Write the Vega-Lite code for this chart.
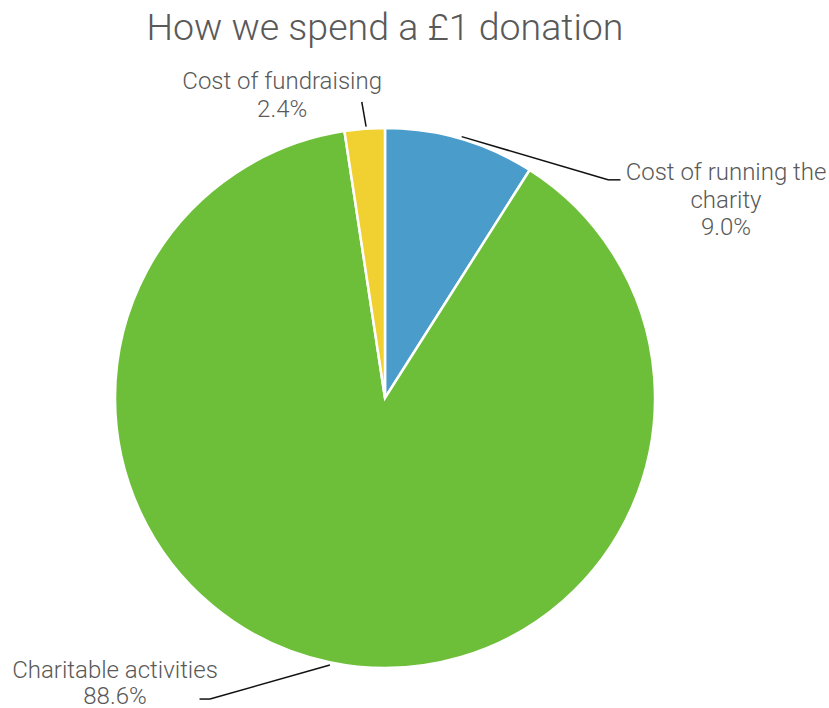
{
  "$schema": "https://vega.github.io/schema/vega-lite/v6.json",
  "autosize": {"type": "none"},
  "width": 540,
  "height": 540,
  "padding": {"left": 115, "top": 128, "right": 174, "bottom": 40},
  "background": "white",
  "title": {
    "text": "How we spend a £1 donation",
    "font": "Roboto",
    "fontWeight": 300,
    "fontSize": 37.5,
    "color": "#595959",
    "frame": "group",
    "anchor": "middle",
    "baseline": "alphabetic",
    "offset": -7
  },
  "config": {
    "view": {"stroke": null},
    "text": {"font": "Roboto", "fontWeight": 300, "fontSize": 24, "color": "#595959", "baseline": "alphabetic", "align": "center", "lineHeight": 28.5, "lineBreak": "\n"},
    "rule": {"color": "#111111", "strokeWidth": 1.5}
  },
  "data": {
    "values": [
      {"category": "Cost of running the charity", "label": "Cost of running the\ncharity", "share": 0.090},
      {"category": "Charitable activities", "label": "Charitable activities", "share": 0.886},
      {"category": "Cost of fundraising", "label": "Cost of fundraising", "share": 0.024}
    ]
  },
  "transform": [
    {"window": [{"op": "row_number", "as": "slice"}]}
  ],
  "layer": [
    {
      "mark": {"type": "arc", "stroke": "white", "strokeWidth": 2.5},
      "encoding": {
        "theta": {"field": "share", "type": "quantitative", "stack": true},
        "order": {"field": "slice", "type": "quantitative"},
        "color": {
          "field": "category",
          "type": "nominal",
          "scale": {
            "domain": ["Cost of running the charity", "Charitable activities", "Cost of fundraising"],
            "range": ["#4a9ccb", "#6dbf39", "#f1d032"]
          },
          "legend": null
        }
      }
    },
    {
      "transform": [{"filter": "datum.category === 'Cost of running the charity'"}],
      "mark": "rule",
      "encoding": {
        "x": {"datum": 0.284, "type": "quantitative", "scale": {"domain": [-1, 1]}, "axis": null},
        "y": {"datum": 0.968, "type": "quantitative", "scale": {"domain": [-1, 1]}, "axis": null},
        "x2": {"datum": 0.826},
        "y2": {"datum": 0.808}
      }
    },
    {
      "transform": [{"filter": "datum.category === 'Cost of running the charity'"}],
      "mark": "rule",
      "encoding": {
        "x": {"datum": 0.826, "type": "quantitative", "scale": {"domain": [-1, 1]}, "axis": null},
        "y": {"datum": 0.808, "type": "quantitative", "scale": {"domain": [-1, 1]}, "axis": null},
        "x2": {"datum": 0.872},
        "y2": {"datum": 0.808}
      }
    },
    {
      "transform": [{"filter": "datum.category === 'Charitable activities'"}],
      "mark": "rule",
      "encoding": {
        "x": {"datum": -0.204, "type": "quantitative", "scale": {"domain": [-1, 1]}, "axis": null},
        "y": {"datum": -0.989, "type": "quantitative", "scale": {"domain": [-1, 1]}, "axis": null},
        "x2": {"datum": -0.648},
        "y2": {"datum": -1.115}
      }
    },
    {
      "transform": [{"filter": "datum.category === 'Charitable activities'"}],
      "mark": "rule",
      "encoding": {
        "x": {"datum": -0.648, "type": "quantitative", "scale": {"domain": [-1, 1]}, "axis": null},
        "y": {"datum": -1.115, "type": "quantitative", "scale": {"domain": [-1, 1]}, "axis": null},
        "x2": {"datum": -0.687},
        "y2": {"datum": -1.115}
      }
    },
    {
      "transform": [{"filter": "datum.category === 'Cost of fundraising'"}],
      "mark": "rule",
      "encoding": {
        "x": {"datum": -0.070, "type": "quantitative", "scale": {"domain": [-1, 1]}, "axis": null},
        "y": {"datum": 1.005, "type": "quantitative", "scale": {"domain": [-1, 1]}, "axis": null},
        "x2": {"datum": -0.086},
        "y2": {"datum": 1.097}
      }
    },
    {
      "transform": [{"filter": "datum.category === 'Cost of running the charity'"}],
      "mark": "text",
      "encoding": {
        "x": {"datum": 1.263, "type": "quantitative", "scale": {"domain": [-1, 1]}, "axis": null},
        "y": {"datum": 0.808, "type": "quantitative", "scale": {"domain": [-1, 1]}, "axis": null},
        "text": {"field": "label"}
      }
    },
    {
      "transform": [{"filter": "datum.category === 'Cost of running the charity'"}],
      "mark": "text",
      "encoding": {
        "x": {"datum": 1.263, "type": "quantitative", "scale": {"domain": [-1, 1]}, "axis": null},
        "y": {"datum": 0.604, "type": "quantitative", "scale": {"domain": [-1, 1]}, "axis": null},
        "text": {"field": "share", "type": "quantitative", "format": ".1%"}
      }
    },
    {
      "transform": [{"filter": "datum.category === 'Charitable activities'"}],
      "mark": "text",
      "encoding": {
        "x": {"datum": -1.0, "type": "quantitative", "scale": {"domain": [-1, 1]}, "axis": null},
        "y": {"datum": -1.038, "type": "quantitative", "scale": {"domain": [-1, 1]}, "axis": null},
        "text": {"field": "label"}
      }
    },
    {
      "transform": [{"filter": "datum.category === 'Charitable activities'"}],
      "mark": "text",
      "encoding": {
        "x": {"datum": -1.0, "type": "quantitative", "scale": {"domain": [-1, 1]}, "axis": null},
        "y": {"datum": -1.135, "type": "quantitative", "scale": {"domain": [-1, 1]}, "axis": null},
        "text": {"field": "share", "type": "quantitative", "format": ".1%"}
      }
    },
    {
      "transform": [{"filter": "datum.category === 'Cost of fundraising'"}],
      "mark": "text",
      "encoding": {
        "x": {"datum": -0.381, "type": "quantitative", "scale": {"domain": [-1, 1]}, "axis": null},
        "y": {"datum": 1.143, "type": "quantitative", "scale": {"domain": [-1, 1]}, "axis": null},
        "text": {"field": "label"}
      }
    },
    {
      "transform": [{"filter": "datum.category === 'Cost of fundraising'"}],
      "mark": "text",
      "encoding": {
        "x": {"datum": -0.381, "type": "quantitative", "scale": {"domain": [-1, 1]}, "axis": null},
        "y": {"datum": 1.040, "type": "quantitative", "scale": {"domain": [-1, 1]}, "axis": null},
        "text": {"field": "share", "type": "quantitative", "format": ".1%"}
      }
    }
  ]
}
